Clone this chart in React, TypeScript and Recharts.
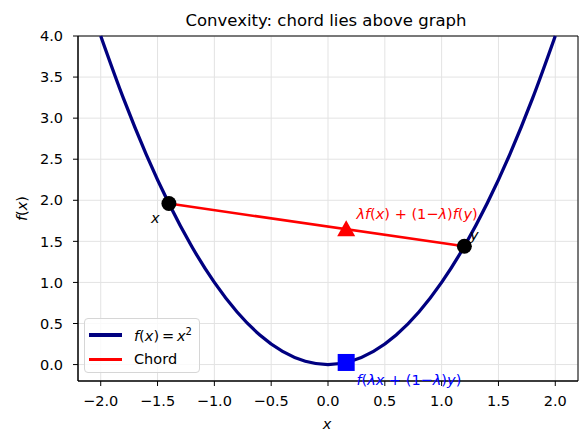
import React from "react";
import {
  CartesianGrid,
  ComposedChart,
  Legend,
  Line,
  ReferenceArea,
  Scatter,
  XAxis,
  YAxis,
} from "recharts";

const curveX = [-2, -1.8, -1.6, -1.4, -1.2, -1, -0.8, -0.6, -0.4, -0.2, 0, 0.2, 0.4, 0.6, 0.8, 1, 1.2, 1.4, 1.6, 1.8, 2];
const curveY = [4, 3.24, 2.56, 1.96, 1.44, 1, 0.64, 0.36, 0.16, 0.04, 0, 0.04, 0.16, 0.36, 0.64, 1, 1.44, 1.96, 2.56, 3.24, 4];

const chordX = [-1.4, 1.2];
const chordY = [1.96, 1.44];

// lambda = 0.4 point
const mixX = 0.16;
const mixChordY = 1.648;
const mixCurveY = 0.0256;

const xTicks = [-2, -1.5, -1, -0.5, 0, 0.5, 1, 1.5, 2];
const yTicks = [0, 0.5, 1, 1.5, 2, 2.5, 3, 3.5, 4];
const xDomain = [-2.2, 2.2];
const yDomain = [-0.2, 4];

const curve = curveX.map((x, i) => ({ x, y: curveY[i] }));
const chord = chordX.map((x, i) => ({ x, y: chordY[i] }));
const endpoints = chord;
const chordMark = [{ x: mixX, y: mixChordY }];
const curveMark = [{ x: mixX, y: mixCurveY }];

const labels = [
  { x: -1.52, y: 1.72, key: "x", color: "#000", anchor: "middle", dy: 0 },
  { x: 1.25, y: 1.52, key: "y", color: "#000", anchor: "start", dy: 0 },
  { x: 0.25, y: 1.77, key: "chord", color: "#ff0000", anchor: "start", dy: 0 },
  { x: 0.25, y: -0.2, key: "curve", color: "#0000ff", anchor: "start", dy: 4 },
];

const FONT = "DejaVu Sans";
const FS = 14.5;
const fmt = (v: number) => v.toFixed(1).replace("-", "\u2212");

const labelText = (key: string) => {
  switch (key) {
    case "x":
      return <tspan fontStyle="italic">x</tspan>;
    case "y":
      return <tspan fontStyle="italic">y</tspan>;
    case "chord":
      return (
        <>
          <tspan fontStyle="italic">λf</tspan>
          <tspan>(</tspan>
          <tspan fontStyle="italic">x</tspan>
          <tspan>) + (1−</tspan>
          <tspan fontStyle="italic">λ</tspan>
          <tspan>)</tspan>
          <tspan fontStyle="italic">f</tspan>
          <tspan>(</tspan>
          <tspan fontStyle="italic">y</tspan>
          <tspan>)</tspan>
        </>
      );
    default:
      return (
        <>
          <tspan fontStyle="italic">f</tspan>
          <tspan>(</tspan>
          <tspan fontStyle="italic">λx</tspan>
          <tspan> + (1−</tspan>
          <tspan fontStyle="italic">λ</tspan>
          <tspan>)</tspan>
          <tspan fontStyle="italic">y</tspan>
          <tspan>)</tspan>
        </>
      );
  }
};

const TextShape = (props: any) => {
  const { cx, cy, payload } = props;
  return (
    <text
      x={cx}
      y={cy + payload.dy}
      fill={payload.color}
      textAnchor={payload.anchor}
      fontFamily={FONT}
      fontSize={FS}
    >
      {labelText(payload.key)}
    </text>
  );
};

const Dot = (props: any) => <circle cx={props.cx} cy={props.cy} r={7.5} fill="#000" />;

const Triangle = (props: any) => {
  const { cx, cy } = props;
  return <polygon points={`${cx},${cy - 9} ${cx - 9},${cy + 7} ${cx + 9},${cy + 7}`} fill="#ff0000" />;
};

const Square = (props: any) => (
  <rect x={props.cx - 8.5} y={props.cy - 8.5} width={17} height={17} fill="#0000ff" />
);

const legendItems = [
  { color: "#000080", width: 4, name: "curve" },
  { color: "#ff0000", width: 3, name: "chord" },
];

const renderLegend = () => (
  <div
    style={{
      width: 114,
      height: 53,
      border: "1px solid #d6d6d6",
      borderRadius: 4,
      background: "rgba(255,255,255,0.8)",
      fontFamily: FONT,
      fontSize: FS,
      position: "relative",
    }}
  >
    {legendItems.map((item, i) => (
      <div
        key={item.name}
        style={{ position: "absolute", left: 4, top: 6 + i * 24, height: 20, display: "flex", alignItems: "center" }}
      >
        <div style={{ width: 33, height: item.width, background: item.color }} />
        <span style={{ marginLeft: 12, whiteSpace: "nowrap" }}>
          {item.name === "curve" ? (
            <>
              <i>f</i>(<i>x</i>){"\u2009=\u2009"}<i>x</i>
              <sup style={{ fontSize: 10, verticalAlign: 6 }}>2</sup>
            </>
          ) : (
            "Chord"
          )}
        </span>
      </div>
    ))}
  </div>
);

export default function App() {
  return (
    <div style={{ position: "absolute", left: 0, top: 0, width: 588, height: 447, background: "#fff" }}>
      <div
        style={{
          position: "absolute",
          left: 78,
          top: 12,
          width: 496,
          textAlign: "center",
          fontFamily: FONT,
          fontSize: 16.5,
          lineHeight: "17px",
          color: "#000",
        }}
      >
        Convexity: chord lies above graph
      </div>
      <ComposedChart width={588} height={447} margin={{ top: 36, right: 10, bottom: 26, left: 28 }}>
        <CartesianGrid stroke="#e3e3e3" strokeWidth={1} />
        <XAxis
          type="number"
          dataKey="x"
          domain={xDomain}
          ticks={xTicks}
          tickFormatter={fmt}
          height={40}
          tickSize={5}
          tickMargin={10}
          axisLine={{ stroke: "#000" }}
          tickLine={{ stroke: "#000" }}
          tick={{ fill: "#000", fontSize: FS, fontFamily: FONT }}
          label={{
            content: ({ viewBox }: any) => (
              <text
                x={viewBox.x + viewBox.width / 2 - 1}
                y={viewBox.y + 48}
                textAnchor="middle"
                fontFamily={FONT}
                fontSize={FS}
                fontStyle="italic"
              >
                x
              </text>
            ),
          }}
        />
        <YAxis
          type="number"
          dataKey="y"
          domain={yDomain}
          ticks={yTicks}
          tickFormatter={fmt}
          width={50}
          tickSize={5}
          tickMargin={10}
          axisLine={{ stroke: "#000" }}
          tickLine={{ stroke: "#000" }}
          tick={{ fill: "#000", fontSize: FS, fontFamily: FONT }}
          label={{
            content: ({ viewBox }: any) => {
              const cx = viewBox.x - 1;
              const cy = viewBox.y + viewBox.height / 2;
              return (
                <text
                  x={cx}
                  y={cy}
                  transform={`rotate(-90 ${cx} ${cy})`}
                  textAnchor="middle"
                  fontFamily={FONT}
                  fontSize={FS}
                >
                  <tspan fontStyle="italic">f</tspan>
                  <tspan>(</tspan>
                  <tspan fontStyle="italic">x</tspan>
                  <tspan>)</tspan>
                </text>
              );
            },
          }}
        />
        <ReferenceArea
          x1={xDomain[0]}
          x2={xDomain[1]}
          y1={yDomain[0]}
          y2={yDomain[1]}
          fill="none"
          fillOpacity={0}
          stroke="#000"
          strokeWidth={1}
        />
        <Line
          data={curve}
          dataKey="y"
          type="monotone"
          stroke="#000080"
          strokeWidth={3.3}
          dot={false}
          isAnimationActive={false}
        />
        <Line
          data={chord}
          dataKey="y"
          type="linear"
          stroke="#ff0000"
          strokeWidth={2.5}
          dot={false}
          isAnimationActive={false}
        />
        <Scatter data={endpoints} shape={Dot} isAnimationActive={false} />
        <Scatter data={chordMark} shape={Triangle} isAnimationActive={false} />
        <Scatter data={curveMark} shape={Square} isAnimationActive={false} />
        <Scatter data={labels} shape={TextShape} isAnimationActive={false} />
        <Legend
          layout="vertical"
          align="center"
          verticalAlign="middle"
          content={renderLegend}
          wrapperStyle={{ position: "absolute", left: 84, top: 318, width: 116, height: 55 }}
        />
      </ComposedChart>
    </div>
  );
}
